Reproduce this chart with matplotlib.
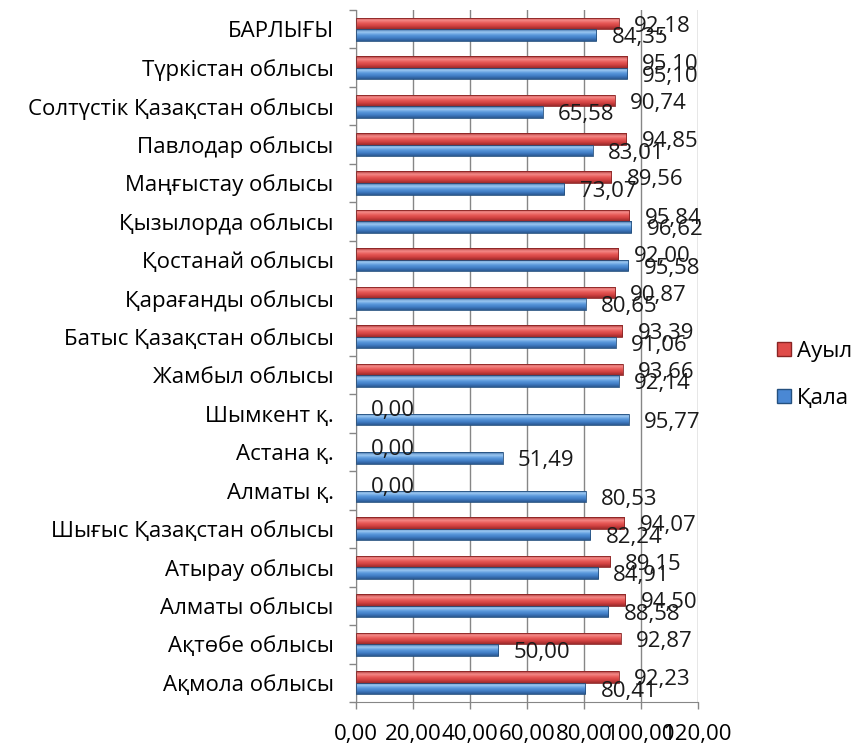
import numpy as np
import matplotlib
matplotlib.use("Agg")
import matplotlib.pyplot as plt
from matplotlib.colors import LinearSegmentedColormap
from matplotlib.patches import Patch

plt.rcParams['font.family'] = ['Open Sans', 'Noto Sans', 'DejaVu Sans']

regions = [
    "Ақмола облысы", "Ақтөбе облысы", "Алматы облысы", "Атырау облысы",
    "Шығыс Қазақстан облысы", "Алматы қ.", "Астана қ.", "Шымкент қ.",
    "Жамбыл облысы", "Батыс Қазақстан облысы", "Қарағанды облысы",
    "Қостанай облысы", "Қызылорда облысы", "Маңғыстау облысы",
    "Павлодар облысы", "Солтүстік Қазақстан облысы", "Түркістан облысы",
    "БАРЛЫҒЫ",
]
auyl = [92.23, 92.87, 94.50, 89.15, 94.07, 0.00, 0.00, 0.00, 93.66, 93.39,
        90.87, 92.00, 95.84, 89.56, 94.85, 90.74, 95.10, 92.18]
qala = [80.41, 50.00, 88.58, 84.91, 82.24, 80.53, 51.49, 95.77, 92.14, 91.06,
        80.65, 95.58, 96.62, 73.07, 83.01, 65.58, 95.10, 84.35]
xticks = [0, 20, 40, 60, 80, 100, 120]

FS = 16

# shaded "cylinder" fills for the bars
red_cmap = LinearSegmentedColormap.from_list(
    "red3d", ["#a83434", "#f48a88", "#e85a58", "#d04040", "#9a2a2a"])
blue_cmap = LinearSegmentedColormap.from_list(
    "blue3d", ["#3a6aa4", "#9cc8f2", "#5a98dc", "#3f7cc4", "#2b5890"])


def fmt(v):
    return f"{v:.2f}".replace(".", ",")


fig = plt.figure(figsize=(8.59, 7.51), dpi=100)
ax = fig.add_axes([0.4144, 0.0653, 0.3982, 0.9214])

y = np.arange(len(regions))
h = 0.30
grad = np.linspace(0, 1, 64).reshape(-1, 1)

for vals, off, cmap, edge in [(auyl, h / 2, red_cmap, "#8a2424"),
                              (qala, -h / 2, blue_cmap, "#24507f")]:
    bars = ax.barh(y + off, vals, height=h, color="none",
                   edgecolor=edge, linewidth=0.6, zorder=3)
    for b, v in zip(bars, vals):
        if v <= 0:
            b.set_visible(False)
            continue
        x0, y0 = b.get_x(), b.get_y()
        im = ax.imshow(grad, extent=[x0, x0 + b.get_width(), y0, y0 + b.get_height()],
                       aspect="auto", cmap=cmap, zorder=2, interpolation="bilinear")
        im.set_clip_path(b)
    for yi, v in zip(y + off, vals):
        ax.annotate(fmt(v), (v, yi), xytext=(11, -2), textcoords="offset points",
                    ha="left", va="center", fontsize=FS, color="#1a1a1a", zorder=5)

ax.set_xlim(0, 120)
ax.set_ylim(-0.5, len(regions) - 0.5)
ax.set_xticks(xticks)
ax.set_xticklabels([fmt(t) for t in xticks], fontsize=FS)
ax.set_yticks(y)
ax.set_yticklabels(regions, fontsize=FS)
ax.set_yticks(np.arange(-0.5, len(regions)), minor=True)
ax.tick_params(axis="y", which="major", length=0, pad=16)
ax.tick_params(axis="y", which="minor", length=5, color="#868686", width=1)
ax.tick_params(axis="x", length=5, color="#868686", width=1, pad=11)
ax.grid(axis="x", color="#868686", linewidth=1, zorder=0)
ax.set_axisbelow(True)
for s in ["top", "right"]:
    ax.spines[s].set_visible(False)
for s in ["left", "bottom"]:
    ax.spines[s].set_color("#868686")

handles = [Patch(facecolor="#e04c4a", edgecolor="#8a2424", label="Ауыл"),
           Patch(facecolor="#4a88d4", edgecolor="#24507f", label="Қала")]
fig.legend(handles=handles, loc="center left", bbox_to_anchor=(0.905, 0.501),
           frameon=False, fontsize=FS, handlelength=0.62, handleheight=0.62,
           handletextpad=0.25, labelspacing=1.15, borderpad=0, borderaxespad=0)

fig.savefig("out.png", dpi=100)
